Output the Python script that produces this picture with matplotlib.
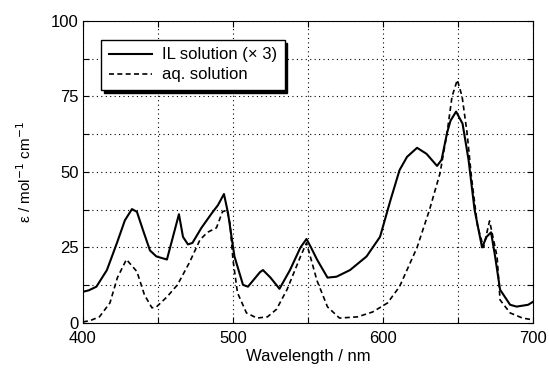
import matplotlib
matplotlib.use("Agg")
import matplotlib.pyplot as plt
from matplotlib.ticker import MultipleLocator, FuncFormatter

plt.rcParams['font.family'] = ['Liberation Sans', 'DejaVu Sans']

# IL solution (x3)
il_wl = [400, 404, 409, 416, 422.7, 428, 432.7, 436, 440, 444.7, 449, 456, 460, 464, 466.7, 470, 473,
         479, 486, 490, 494, 496.7, 501, 506.7, 510, 518, 520, 525, 531, 538, 545, 549, 552, 556, 563,
         569, 578, 589, 598, 605, 611, 616, 622.7, 629, 636, 639, 642.7, 645, 648.7, 653, 657, 661,
         666, 669, 672, 674.7, 678, 684.7, 689, 696.7, 700]
il_eps = [10.3, 10.8, 12, 17.5, 26.5, 34, 37.7, 36.8, 30.8, 24, 22, 21, 28.5, 36, 28.5, 26, 26.5,
          31.5, 36.4, 39, 42.7, 36.4, 22, 12.6, 12, 16.8, 17.5, 15, 11.3, 17.5, 25, 27.8, 25, 21, 15,
          15.3, 17.5, 22, 28.5, 40.7, 50.6, 55, 58, 56, 52, 54, 63, 67, 70, 66, 54, 37.5,
          25, 28.5, 30, 22, 11, 6, 5.4, 6, 7]

# aq. solution
aq_wl = [400, 405, 411, 418, 423, 429, 436, 441, 446, 449, 456, 463, 471, 478, 483, 489, 493, 496,
         498, 500, 503, 509, 516, 523, 529, 536, 545, 549, 556, 563, 571, 583, 593, 603, 611, 622.7,
         631, 638, 642.7, 646, 649.5, 652.7, 656, 659, 663, 667, 671, 676, 678, 684.7, 693, 700]
aq_eps = [0.3, 0.8, 2, 6.6, 15, 21, 17, 9.3, 5, 5.3, 8.6, 12.6, 20, 27.5, 30, 31.5, 36.8, 37.4,
          33, 21, 10, 3.3, 1.6, 2, 4.5, 11, 22, 26.5, 14, 5.3, 1.6, 2, 3.6, 6.6, 12, 25,
          37.5, 49.6, 63, 75, 80.5, 75, 63, 48, 32, 25, 33.8, 22, 7.6, 3.3, 1.6, 1]

fig = plt.figure(figsize=(5.49, 3.72), dpi=100)
ax = fig.add_axes([0.151, 0.132, 0.82, 0.8115])

ax.plot(il_wl, il_eps, color='black', lw=1.5, label='IL solution (\u00d7 3)')
ax.plot(aq_wl, aq_eps, color='black', lw=1.2, ls=(0, (3, 2)), label='aq. solution')

ax.set_xlim(400, 700)
ax.set_ylim(0, 100)
ax.xaxis.set_major_locator(MultipleLocator(50))
ax.yaxis.set_major_locator(MultipleLocator(12.5))
ax.xaxis.set_major_formatter(FuncFormatter(lambda v, p: f"{int(v)}" if abs(v % 100) < 1e-6 else ""))
ax.yaxis.set_major_formatter(FuncFormatter(lambda v, p: f"{int(v)}" if abs(v % 25) < 1e-6 else ""))
ax.tick_params(direction='in', length=4, width=0.8, labelsize=12, top=True, right=True)
ax.tick_params(axis='x', pad=6)
ax.tick_params(axis='y', pad=3)
ax.grid(True, color='black', ls=(0, (1, 3)), lw=0.8)

ax.set_xlabel('Wavelength / nm', fontsize=12, labelpad=2)
ax.set_ylabel('\u03b5 / mol$^{-1}$ cm$^{-1}$', fontsize=11, labelpad=12)

leg = ax.legend(loc='upper left', bbox_to_anchor=(0.022, 0.965), fontsize=12, frameon=True,
                fancybox=False, shadow={'color': 'black', 'alpha': 1}, edgecolor='black',
                framealpha=1, handlelength=2.6, borderpad=0.45, labelspacing=0.3,
                handletextpad=0.6)
leg.get_frame().set_linewidth(1.0)

fig.savefig('out.png', dpi=100)
